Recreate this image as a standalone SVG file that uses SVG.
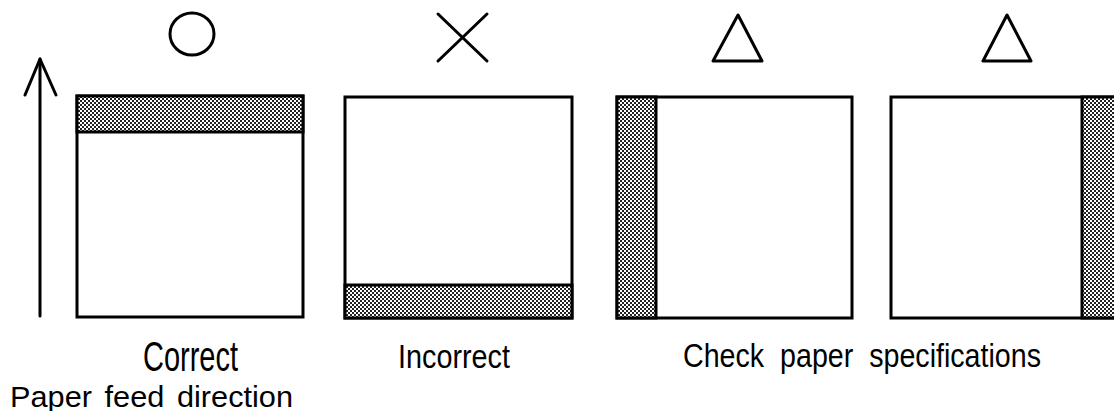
<svg xmlns="http://www.w3.org/2000/svg" width="1114" height="411" viewBox="0 0 1114 411">
<defs>
<pattern id="hatch" width="4" height="4" patternUnits="userSpaceOnUse">
<rect width="4" height="4" fill="#ffffff"/>
<rect width="2" height="2" fill="#222"/>
<rect x="2" y="2" width="2" height="2" fill="#222"/>
</pattern>
</defs>
<style>
.box{fill:#fff;stroke:#000;stroke-width:3}
.band{fill:url(#hatch);stroke:#000;stroke-width:3}
.sym{fill:none;stroke:#000;stroke-width:3;stroke-linecap:round;stroke-linejoin:round}
.lbl{font-family:"Liberation Sans",Arial,sans-serif;fill:#000}
</style>
<g id="connectors">
<line class="sym" x1="40" y1="316" x2="40" y2="59"/>
<polyline class="sym" points="25,95 40,59 56,95"/>
</g>
<g id="box-correct">
<ellipse class="sym" cx="192" cy="34" rx="22" ry="21"/>
<rect class="box" x="77" y="96" width="226" height="221"/>
<rect class="band" x="77" y="96" width="226" height="36"/>
<text class="lbl" x="143" y="371" font-size="43" textLength="95" lengthAdjust="spacingAndGlyphs">Correct</text>
</g>
<g id="box-incorrect">
<line class="sym" x1="438" y1="14" x2="487" y2="61"/>
<line class="sym" x1="487" y1="14" x2="438" y2="61"/>
<rect class="box" x="345" y="97" width="227" height="221"/>
<rect class="band" x="345" y="285" width="227" height="33"/>
<text class="lbl" x="398" y="368" font-size="33" textLength="112" lengthAdjust="spacingAndGlyphs">Incorrect</text>
</g>
<g id="box-left">
<polygon class="sym" points="738,15 713,61 762,61"/>
<rect class="box" x="617" y="97" width="235" height="221"/>
<rect class="band" x="617" y="97" width="39" height="221"/>
</g>
<g id="box-right">
<polygon class="sym" points="1007,15 983,61 1031,61"/>
<rect class="box" x="891" y="97" width="230" height="221"/>
<rect class="band" x="1082" y="97" width="40" height="221"/>
</g>
<text class="lbl" x="683" y="367" font-size="34" xml:space="preserve" textLength="358" lengthAdjust="spacingAndGlyphs">Check  paper  specifications</text>
<text class="lbl" x="10" y="407" font-size="30" word-spacing="4" textLength="283" lengthAdjust="spacingAndGlyphs">Paper feed direction</text>
</svg>
